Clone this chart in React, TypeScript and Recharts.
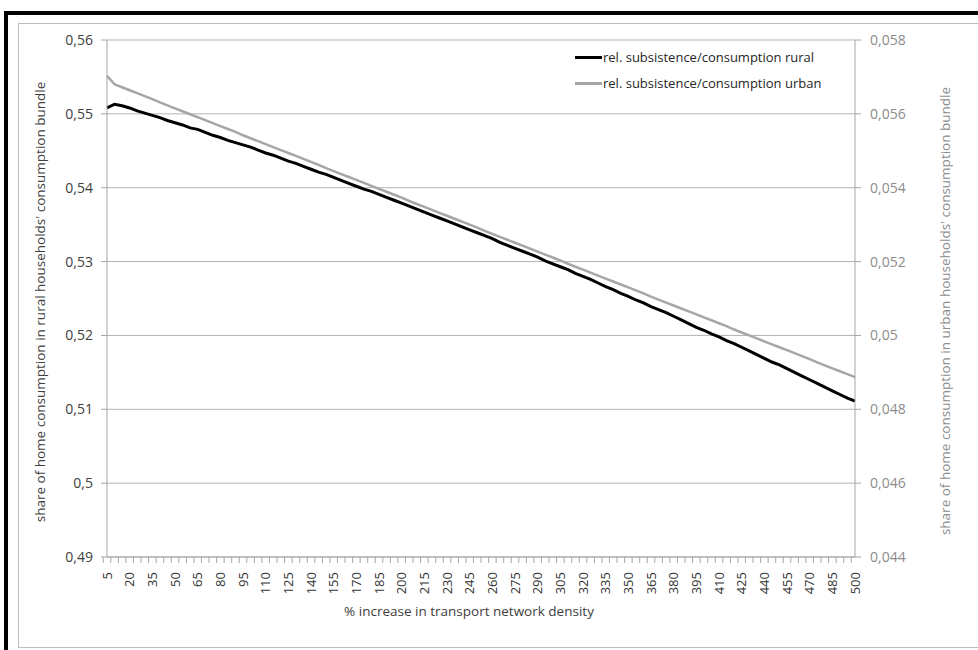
import { LineChart, Line, XAxis, YAxis, CartesianGrid, Legend } from 'recharts'

// % increase in transport network density (category axis)
const DENSITY = [
  5, 10, 15, 20, 25, 30, 35, 40, 45, 50, 55, 60, 65, 70, 75, 80, 85, 90, 95, 100,
  105, 110, 115, 120, 125, 130, 135, 140, 145, 150, 155, 160, 165, 170, 175, 180, 185, 190, 195, 200,
  205, 210, 215, 220, 225, 230, 235, 240, 245, 250, 255, 260, 265, 270, 275, 280, 285, 290, 295, 300,
  305, 310, 315, 320, 325, 330, 335, 340, 345, 350, 355, 360, 365, 370, 375, 380, 385, 390, 395, 400,
  405, 410, 415, 420, 425, 430, 435, 440, 445, 450, 455, 460, 465, 470, 475, 480, 485, 490, 495, 500,
]

// left axis: rural share
const RURAL = [
  0.5508, 0.5513, 0.5511, 0.5508, 0.5504, 0.5501, 0.5498, 0.5495, 0.5491, 0.5488,
  0.5485, 0.5481, 0.5479, 0.5475, 0.5471, 0.5468, 0.5464, 0.5461, 0.5458, 0.5455,
  0.5451, 0.5447, 0.5444, 0.5440, 0.5436, 0.5433, 0.5429, 0.5425, 0.5421, 0.5418,
  0.5414, 0.5410, 0.5406, 0.5402, 0.5398, 0.5395, 0.5391, 0.5387, 0.5383, 0.5379,
  0.5375, 0.5371, 0.5367, 0.5363, 0.5359, 0.5355, 0.5351, 0.5347, 0.5343, 0.5339,
  0.5335, 0.5331, 0.5326, 0.5322, 0.5318, 0.5314, 0.5310, 0.5306, 0.5301, 0.5297,
  0.5293, 0.5289, 0.5284, 0.5280, 0.5276, 0.5271, 0.5266, 0.5262, 0.5257, 0.5253,
  0.5248, 0.5244, 0.5239, 0.5235, 0.5231, 0.5226, 0.5221, 0.5216, 0.5211, 0.5207,
  0.5202, 0.5198, 0.5193, 0.5189, 0.5184, 0.5179, 0.5174, 0.5169, 0.5164, 0.5160,
  0.5155, 0.5150, 0.5145, 0.5140, 0.5135, 0.5130, 0.5125, 0.5120, 0.5115, 0.5111,
]

// right axis: urban share
const URBAN = [
  0.05703, 0.05680, 0.05672, 0.05664, 0.05656, 0.05648, 0.05640, 0.05631, 0.05623, 0.05615,
  0.05607, 0.05599, 0.05591, 0.05583, 0.05575, 0.05567, 0.05559, 0.05551, 0.05542, 0.05534,
  0.05526, 0.05518, 0.05510, 0.05502, 0.05494, 0.05486, 0.05478, 0.05470, 0.05462, 0.05453,
  0.05445, 0.05437, 0.05429, 0.05421, 0.05413, 0.05405, 0.05397, 0.05389, 0.05381, 0.05373,
  0.05364, 0.05356, 0.05348, 0.05340, 0.05332, 0.05324, 0.05316, 0.05308, 0.05300, 0.05292,
  0.05283, 0.05275, 0.05267, 0.05259, 0.05251, 0.05243, 0.05235, 0.05227, 0.05219, 0.05211,
  0.05203, 0.05194, 0.05186, 0.05178, 0.05170, 0.05162, 0.05154, 0.05146, 0.05138, 0.05130,
  0.05122, 0.05114, 0.05105, 0.05097, 0.05089, 0.05081, 0.05073, 0.05065, 0.05057, 0.05049,
  0.05041, 0.05033, 0.05025, 0.05016, 0.05008, 0.05000, 0.04992, 0.04984, 0.04976, 0.04968,
  0.04960, 0.04952, 0.04944, 0.04936, 0.04927, 0.04919, 0.04911, 0.04903, 0.04895, 0.04887,
]

const LEFT_TICKS = [0.49, 0.5, 0.51, 0.52, 0.53, 0.54, 0.55, 0.56]
const RIGHT_TICKS = [0.044, 0.046, 0.048, 0.05, 0.052, 0.054, 0.056, 0.058]

const SERIES = [
  { key: 'rural', name: 'rel. subsistence/consumption rural', color: '#000000', width: 3 },
  { key: 'urban', name: 'rel. subsistence/consumption urban', color: '#a6a6a6', width: 2.5 },
]

const DATA = DENSITY.map((d, i) => ({ density: d, rural: RURAL[i], urban: URBAN[i] }))

const FONT = '"Open Sans", sans-serif'
const BAND = 748 / DENSITY.length

const comma = (v: number) => String(parseFloat(v.toFixed(4))).replace('.', ',')

function XTick({ x, y, payload, index }: any) {
  return (
    <g>
      <line x1={x - BAND / 2} x2={x - BAND / 2} y1={y - 15} y2={y - 9} stroke="#a6a6a6" />
      {index % 3 === 0 && (
        <text
          x={x}
          y={y}
          dy="0.35em"
          textAnchor="end"
          transform={`rotate(-90, ${x}, ${y})`}
          fill="#333333"
          fontSize={13}
          fontFamily={FONT}
        >
          {payload.value}
        </text>
      )}
    </g>
  )
}

function LegendBox() {
  return (
    <div style={{ fontFamily: FONT, fontSize: 13, color: '#262626', lineHeight: '26px' }}>
      {SERIES.map((s) => (
        <div key={s.key} style={{ display: 'flex', alignItems: 'center' }}>
          <span style={{ display: 'inline-block', width: 27, height: 3, background: s.color, marginRight: 1 }} />
          {s.name}
        </div>
      ))}
    </div>
  )
}

const titleStyle = {
  position: 'absolute' as const,
  width: 520,
  textAlign: 'center' as const,
  fontFamily: FONT,
  fontSize: 13.5,
  lineHeight: '16px',
  whiteSpace: 'nowrap' as const,
  transform: 'rotate(-90deg)',
}

export default function App() {
  return (
    <div style={{ position: 'absolute', left: 0, top: 0, width: 978, height: 650, background: '#fff', overflow: 'hidden' }}>
      <div style={{ position: 'absolute', left: 4, top: 11, width: 990, height: 660, border: '4px solid #000', borderRightWidth: 0, borderBottomWidth: 0 }} />
      <div style={{ position: 'absolute', left: 18, top: 23, width: 980, height: 623, border: '1px solid #bdbdbd' }} />
      <LineChart
        width={978}
        height={650}
        data={DATA}
        margin={{ top: 40, right: 63, bottom: 33, left: 47 }}
        style={{ position: 'absolute', left: 0, top: 0 }}
      >
        <CartesianGrid yAxisId="left" vertical={false} stroke="#b3b3b3" />
        <XAxis
          dataKey="density"
          interval={0}
          height={60}
          tickSize={5}
          tickMargin={10}
          tickLine={false}
          axisLine={{ stroke: '#a6a6a6' }}
          tick={<XTick />}
        />
        <YAxis
          yAxisId="left"
          domain={[0.49, 0.56]}
          ticks={LEFT_TICKS}
          width={60}
          tickSize={6}
          tickMargin={8}
          tickFormatter={comma}
          tick={{ fill: '#404040', fontSize: 14, fontFamily: FONT }}
          tickLine={{ stroke: '#a6a6a6' }}
          axisLine={{ stroke: '#a6a6a6' }}
        />
        <YAxis
          yAxisId="right"
          orientation="right"
          domain={[0.044, 0.058]}
          ticks={RIGHT_TICKS}
          width={60}
          tickSize={6}
          tickMargin={9}
          tickFormatter={comma}
          tick={{ fill: '#8c8c8c', fontSize: 14, fontFamily: FONT, textAnchor: 'start' }}
          tickLine={{ stroke: '#a6a6a6' }}
          axisLine={{ stroke: '#a6a6a6' }}
        />
        <Legend
          layout="vertical"
          align="center"
          verticalAlign="middle"
          content={<LegendBox />}
          wrapperStyle={{ top: 44, left: 575, width: 'auto' }}
        />
        <Line
          yAxisId="left"
          dataKey="rural"
          name={SERIES[0].name}
          stroke={SERIES[0].color}
          strokeWidth={SERIES[0].width}
          dot={false}
          isAnimationActive={false}
        />
        <Line
          yAxisId="right"
          dataKey="urban"
          name={SERIES[1].name}
          stroke={SERIES[1].color}
          strokeWidth={SERIES[1].width}
          dot={false}
          isAnimationActive={false}
        />
      </LineChart>
      <div style={{ ...titleStyle, left: 40 - 260, top: 302 - 8, color: '#404040' }}>
        share of home consumption in rural households' consumption bundle
      </div>
      <div style={{ ...titleStyle, left: 945 - 260, top: 311 - 8, color: '#8c8c8c' }}>
        share of home consumption in urban households' consumption bundle
      </div>
      <div style={{ position: 'absolute', left: 95, width: 748, top: 602, textAlign: 'center', fontFamily: FONT, fontSize: 13.5, color: '#404040' }}>
        % increase in transport network density
      </div>
    </div>
  )
}
